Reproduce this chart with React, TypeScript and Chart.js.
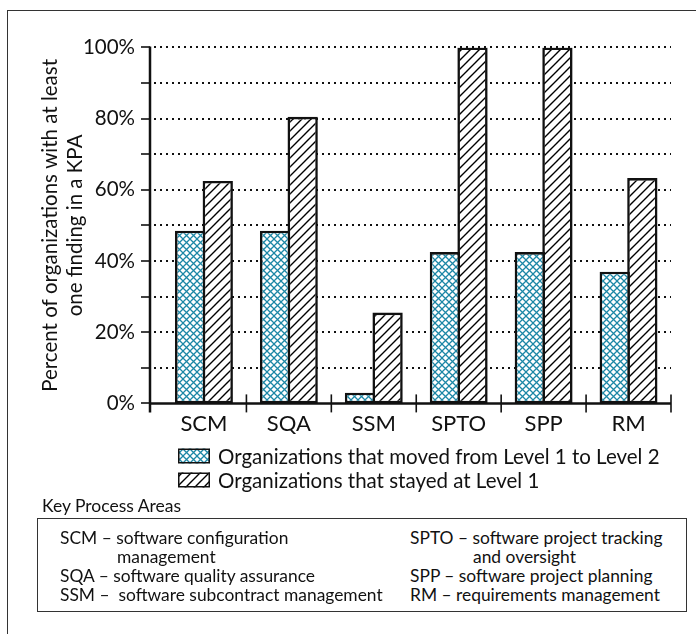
import React, { useEffect, useRef } from 'react';
import { Chart, registerables } from 'chart.js';

Chart.register(...registerables);

const categories = ['SCM', 'SQA', 'SSM', 'SPTO', 'SPP', 'RM'];
const movedValues = [48.5, 48.5, 3, 42.5, 42.5, 37];
const stayedValues = [62.5, 80.5, 25.5, 100, 100, 63.3];
const seriesLabels = [
  'Organizations that moved from Level 1 to Level 2',
  'Organizations that stayed at Level 1',
];
const yTitleLines = ['Percent of organizations with at least', 'one finding in a KPA'];
const keyTitle = 'Key Process Areas';
const keyLeftLines = [
  'SCM – software configuration',
  'management',
  'SQA – software quality assurance',
  'SSM –  software subcontract management',
];
const keyRightLines = [
  'SPTO – software project tracking',
  'and oversight',
  'SPP – software project planning',
  'RM – requirements management',
];

const FONT = 'Lato, "DejaVu Sans", sans-serif';
const INK = '#111';

function makeCross(): CanvasPattern | string {
  const s = 7;
  const c = document.createElement('canvas');
  c.width = s;
  c.height = s;
  const g = c.getContext('2d');
  if (!g) return '#fff';
  g.fillStyle = '#fff';
  g.fillRect(0, 0, s, s);
  g.strokeStyle = '#1c87a6';
  g.lineWidth = 1.3;
  g.beginPath();
  g.moveTo(-1, -1);
  g.lineTo(s + 1, s + 1);
  g.moveTo(s + 1, -1);
  g.lineTo(-1, s + 1);
  g.stroke();
  return g.createPattern(c, 'repeat') as CanvasPattern;
}

function makeHatch(): CanvasPattern | string {
  const s = 9;
  const c = document.createElement('canvas');
  c.width = s;
  c.height = s;
  const g = c.getContext('2d');
  if (!g) return '#fff';
  g.fillStyle = '#fff';
  g.fillRect(0, 0, s, s);
  g.strokeStyle = '#000';
  g.lineWidth = 1.4;
  g.beginPath();
  g.moveTo(-1, s + 1);
  g.lineTo(s + 1, -1);
  g.moveTo(-2, 2);
  g.lineTo(2, -2);
  g.moveTo(s - 2, s + 2);
  g.lineTo(s + 2, s - 2);
  g.stroke();
  return g.createPattern(c, 'repeat') as CanvasPattern;
}

const axesPlugin = {
  id: 'customAxes',
  beforeDatasetsDraw(chart: any) {
    const { ctx, chartArea, scales } = chart;
    const y = scales.y;
    const axisX = chartArea.left - 11.5;
    ctx.save();
    ctx.strokeStyle = INK;
    ctx.lineWidth = 2;
    ctx.setLineDash([2, 4]);
    for (let v = 10; v <= 100; v += 10) {
      const py = Math.round(y.getPixelForValue(v));
      ctx.beginPath();
      ctx.moveTo(axisX + 4, py);
      ctx.lineTo(chartArea.right, py);
      ctx.stroke();
    }
    ctx.restore();
  },
  afterDatasetsDraw(chart: any) {
    const { ctx, chartArea, scales } = chart;
    const x = scales.x;
    const y = scales.y;
    const axisX = chartArea.left - 11.5;
    const y0 = y.getPixelForValue(0);
    const yTop = y.getPixelForValue(100);
    ctx.save();
    ctx.strokeStyle = INK;
    ctx.setLineDash([]);
    ctx.lineWidth = 1.6;
    for (let v = 0; v <= 100; v += 10) {
      const py = Math.round(y.getPixelForValue(v));
      ctx.beginPath();
      ctx.moveTo(axisX - 9, py);
      ctx.lineTo(axisX, py);
      ctx.stroke();
    }
    const half = (x.getPixelForValue(1) - x.getPixelForValue(0)) / 2;
    for (let i = 0; i < categories.length; i++) {
      const px = x.getPixelForValue(i) + half;
      ctx.beginPath();
      ctx.moveTo(px, y0 - 9);
      ctx.lineTo(px, y0 + 9);
      ctx.stroke();
    }
    ctx.lineWidth = 2.5;
    ctx.beginPath();
    ctx.moveTo(axisX, yTop - 1);
    ctx.lineTo(axisX, y0 + 9);
    ctx.stroke();
    ctx.beginPath();
    ctx.moveTo(axisX, y0);
    ctx.lineTo(chartArea.right, y0);
    ctx.stroke();
    ctx.restore();
  },
  afterDraw(chart: any) {
    const { ctx, chartArea } = chart;
    const sx = chartArea.left + 16.5;
    const rows = [chartArea.bottom + 52.6, chartArea.bottom + 76.6];
    ctx.save();
    chart.data.datasets.forEach((ds: any, i: number) => {
      const cy = rows[i];
      ctx.fillStyle = ds.backgroundColor;
      ctx.fillRect(sx, cy - 7.5, 32, 15);
      ctx.strokeStyle = INK;
      ctx.lineWidth = 1.5;
      ctx.strokeRect(sx + 0.75, cy - 6.75, 30.5, 13.5);
      ctx.fillStyle = INK;
      ctx.font = `20.5px ${FONT}`;
      ctx.textBaseline = 'middle';
      ctx.textAlign = 'left';
      ctx.fillText(ds.label, sx + 40, cy + 1);
    });
    ctx.restore();
  },
};

function ChartCanvas() {
  const ref = useRef<HTMLCanvasElement | null>(null);
  useEffect(() => {
    if (!ref.current) return;
    const chart = new Chart(ref.current, {
      type: 'bar',
      data: {
        labels: categories,
        datasets: [
          {
            label: seriesLabels[0],
            data: movedValues,
            backgroundColor: makeCross() as any,
            borderColor: INK,
            borderWidth: 2.6,
            borderSkipped: false,
            categoryPercentage: 0.65,
            barPercentage: 1.098,
          },
          {
            label: seriesLabels[1],
            data: stayedValues,
            backgroundColor: makeHatch() as any,
            borderColor: INK,
            borderWidth: 2.6,
            borderSkipped: false,
            categoryPercentage: 0.65,
            barPercentage: 1.098,
          },
        ],
      },
      options: {
        animation: false,
        responsive: false,
        devicePixelRatio: 1,
        events: [],
        layout: { padding: { left: 0, top: 39.4, right: 17, bottom: 54.6 } },
        plugins: { legend: { display: false }, tooltip: { enabled: false } },
        scales: {
          x: {
            grid: { display: false, drawTicks: false },
            border: { display: false },
            ticks: {
              color: INK,
              font: { family: FONT, size: 22 },
              padding: 7,
            },
            afterFit: (s: any) => {
              s.height = 40;
            },
          },
          y: {
            min: 0,
            max: 100,
            grid: { display: false, drawTicks: false },
            border: { display: false },
            ticks: {
              stepSize: 10,
              color: INK,
              font: { family: FONT, size: 20.5 },
              padding: 26.5,
              callback: (v: any) => (Number(v) % 20 === 0 ? `${v}%` : ''),
            },
            title: {
              display: true,
              text: yTitleLines,
              color: INK,
              font: { family: FONT, size: 20.5, lineHeight: 1.22 },
              padding: { top: 29.5, bottom: 0 },
            },
            afterFit: (s: any) => {
              s.width = 153.5;
            },
          },
        },
      },
      plugins: [axesPlugin],
    });
    return () => chart.destroy();
  }, []);
  return (
    <canvas
      ref={ref}
      width={680}
      height={490}
      style={{ position: 'absolute', left: 8, top: 8, width: 680, height: 490 }}
    />
  );
}

export default function App() {
  const lineTops = [527.5, 546.5, 565.5, 584.5];
  const leftX = [60, 117, 60, 60];
  const rightX = [410, 473, 410, 410];
  const textStyle: React.CSSProperties = {
    position: 'absolute',
    whiteSpace: 'pre',
    fontFamily: FONT,
    fontSize: 17.4,
    lineHeight: '19px',
    color: INK,
  };
  return (
    <div
      style={{
        position: 'absolute',
        left: 0,
        top: 0,
        width: 696,
        height: 634,
        overflow: 'hidden',
        fontFamily: FONT,
      }}
    >
      <div
        style={{
          position: 'absolute',
          left: 6.5,
          top: 9.7,
          width: 800,
          height: 800,
          borderTop: '1.7px solid #333',
          borderLeft: '1.7px solid #333',
        }}
      />
      <ChartCanvas />
      <div style={{ ...textStyle, fontSize: 17.5, lineHeight: '20px', left: 42, top: 496 }}>{keyTitle}</div>
      <div
        style={{
          position: 'absolute',
          left: 37,
          top: 517.5,
          width: 650,
          height: 94.5,
          boxSizing: 'border-box',
          border: '1.7px solid #333',
        }}
      />
      {keyLeftLines.map((t, i) => (
        <div key={'l' + i} style={{ ...textStyle, left: leftX[i], top: lineTops[i] }}>
          {t}
        </div>
      ))}
      {keyRightLines.map((t, i) => (
        <div key={'r' + i} style={{ ...textStyle, left: rightX[i], top: lineTops[i] }}>
          {t}
        </div>
      ))}
    </div>
  );
}
